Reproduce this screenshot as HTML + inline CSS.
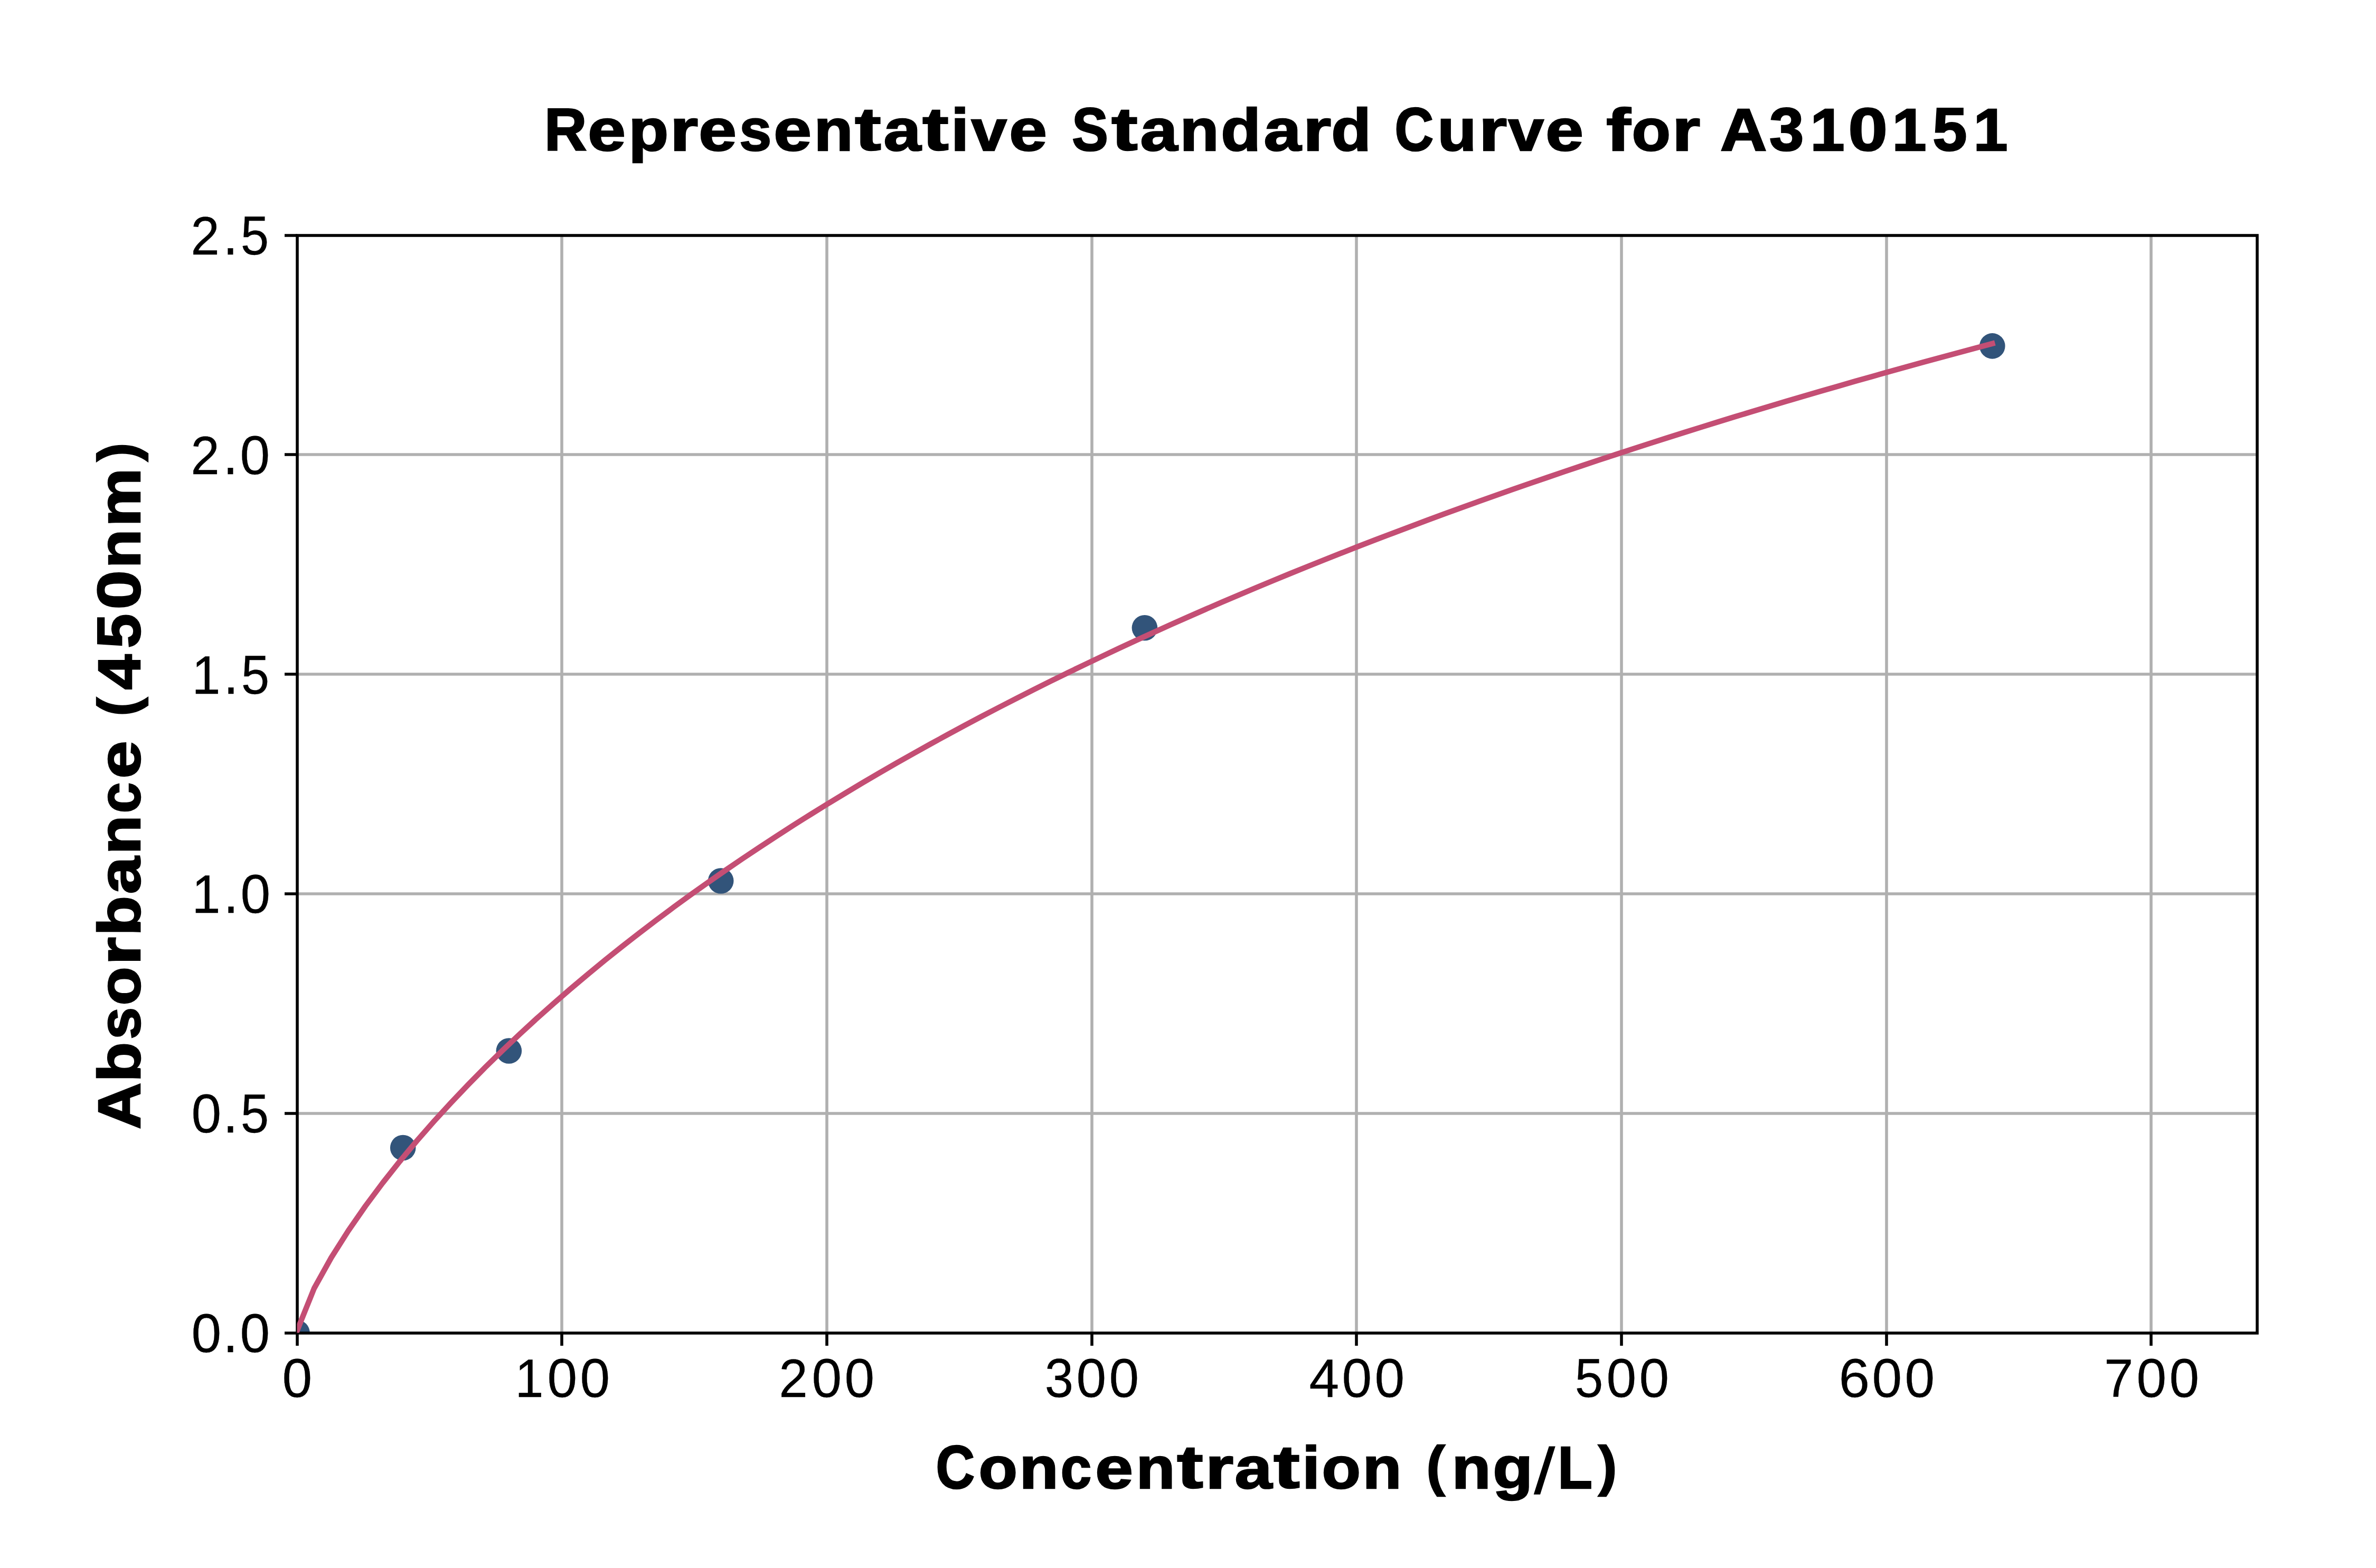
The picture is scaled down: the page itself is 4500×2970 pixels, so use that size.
<!DOCTYPE html>
<html lang="en"><head><meta charset="utf-8"><title>Representative Standard Curve for A310151</title>
<style>html,body{margin:0;padding:0;background:#fff}
#fig{position:relative;width:4500px;height:2970px;background:#fff;overflow:hidden;font-family:"Liberation Sans",sans-serif;color:#000}
.t{position:absolute;white-space:nowrap;font-kerning:none;transform-origin:0 0;font-weight:400;font-size:103px;line-height:115px;-webkit-text-stroke:0.3px #000}
.t .g{display:inline-block;transform-origin:0 93px}
.b{font-weight:700;font-size:114px;line-height:127px;-webkit-text-stroke:2.6px #000}
.b .g{transform-origin:0 103px}</style></head>
<body><div id="fig">
<svg width="4500" height="2970" viewBox="0 0 4500 2970" style="position:absolute;left:0;top:0">
<defs><clipPath id="ax"><rect x="562.5" y="445.5" width="3712.5" height="2079.0"/></clipPath></defs>
<rect width="4500" height="2970" fill="#ffffff"/>
<path d="M1064 445.5V2524.5M1566 445.5V2524.5M2068 445.5V2524.5M2569 445.5V2524.5M3071 445.5V2524.5M3573 445.5V2524.5M4074 445.5V2524.5M562.5 861H4275.0M562.5 1277H4275.0M562.5 1693H4275.0M562.5 2109H4275.0" fill="none" stroke="#b0b0b0" stroke-width="5.556"/>
<g clip-path="url(#ax)">
<circle cx="562.50" cy="2524.50" r="24.306" fill="#32547A"/>
<circle cx="763.18" cy="2173.98" r="24.306" fill="#32547A"/>
<circle cx="963.85" cy="1990.53" r="24.306" fill="#32547A"/>
<circle cx="1365.20" cy="1668.53" r="24.306" fill="#32547A"/>
<circle cx="2167.91" cy="1189.28" r="24.306" fill="#32547A"/>
<circle cx="3773.31" cy="655.40" r="24.306" fill="#32547A"/>
</g>
<path d="M563 2525.0v24M1064 2525.0v24M1566 2525.0v24M2068 2525.0v24M2569 2525.0v24M3071 2525.0v24M3573 2525.0v24M4074 2525.0v24M563.0 446h-24M563.0 861h-24M563.0 1277h-24M563.0 1693h-24M563.0 2109h-24M563.0 2525h-24" fill="none" stroke="#000" stroke-width="5.556"/>
<rect x="563.0" y="446.0" width="3712.0" height="2079.0" fill="none" stroke="#000" stroke-width="5.556" stroke-linejoin="miter"/>
<polyline clip-path="url(#ax)" points="562.50,2520.91 594.93,2440.34 627.36,2382.14 659.80,2330.98 692.23,2284.25 724.66,2240.74 757.09,2199.79 789.53,2160.94 821.96,2123.89 854.39,2088.40 886.82,2054.29 919.26,2021.43 951.69,1989.69 984.12,1958.98 1016.55,1929.21 1048.99,1900.31 1081.42,1872.23 1113.85,1844.91 1146.28,1818.30 1178.72,1792.35 1211.15,1767.05 1243.58,1742.33 1276.01,1718.19 1308.45,1694.58 1340.88,1671.48 1373.31,1648.88 1405.74,1626.74 1438.18,1605.05 1470.61,1583.78 1503.04,1562.93 1535.47,1542.47 1567.91,1522.39 1600.34,1502.68 1632.77,1483.32 1665.20,1464.30 1697.64,1445.61 1730.07,1427.23 1762.50,1409.16 1794.93,1391.38 1827.36,1373.90 1859.80,1356.69 1892.23,1339.75 1924.66,1323.07 1957.09,1306.64 1989.53,1290.46 2021.96,1274.52 2054.39,1258.82 2086.82,1243.34 2119.26,1228.08 2151.69,1213.03 2184.12,1198.20 2216.55,1183.56 2248.99,1169.13 2281.42,1154.89 2313.85,1140.84 2346.28,1126.97 2378.72,1113.28 2411.15,1099.77 2443.58,1086.42 2476.01,1073.25 2508.45,1060.24 2540.88,1047.39 2573.31,1034.69 2605.74,1022.15 2638.18,1009.76 2670.61,997.52 2703.04,985.41 2735.47,973.45 2767.91,961.63 2800.34,949.94 2832.77,938.38 2865.20,926.95 2897.64,915.65 2930.07,904.48 2962.50,893.42 2994.93,882.49 3027.36,871.67 3059.80,860.97 3092.23,850.38 3124.66,839.90 3157.09,829.53 3189.53,819.26 3221.96,809.10 3254.39,799.05 3286.82,789.09 3319.26,779.24 3351.69,769.48 3384.12,759.82 3416.55,750.26 3448.99,740.78 3481.42,731.40 3513.85,722.11 3546.28,712.90 3578.72,703.79 3611.15,694.75 3643.58,685.81 3676.01,676.94 3708.45,668.16 3740.88,659.45 3773.31,650.83" fill="none" stroke="#C44E74" stroke-width="10.417" stroke-linejoin="round" stroke-linecap="square"/>
</svg>
<div class="t b title" style="left:1026.80px;top:183.00px"><span class="g" style="width:85.57px;text-indent:4.13px;transform:translate(0,-1.30px) scale(0.9756,0.9996)">R</span><span class="g" style="width:75.37px;text-indent:1.07px;transform:translate(0,-0.79px) scale(1.1311,0.9807)">e</span><span class="g" style="width:79.55px;text-indent:2.38px;transform:translate(0,-1.16px) scale(1.0861,0.9724)">p</span><span class="g" style="width:54.80px;text-indent:1.58px;transform:translate(0,-1.26px) scale(1.1966,0.9724)">r</span><span class="g" style="width:75.37px;text-indent:1.07px;transform:translate(0,-0.79px) scale(1.1311,0.9807)">e</span><span class="g" style="width:66.14px;text-indent:3.27px;transform:translate(0,-0.79px) scale(0.9617,0.9799)">s</span><span class="g" style="width:75.37px;text-indent:1.07px;transform:translate(0,-0.79px) scale(1.1311,0.9807)">e</span><span class="g" style="width:79.11px;text-indent:2.59px;transform:translate(0,-1.26px) scale(1.0596,0.9724)">n</span><span class="g" style="width:53.12px;text-indent:1.04px;transform:translate(0,-2.30px) scale(1.2996,1.0006)">t</span><span class="g" style="width:74.99px;text-indent:2.23px;transform:translate(0,-0.79px) scale(1.1180,0.9807)">a</span><span class="g" style="width:53.12px;text-indent:1.04px;transform:translate(0,-2.30px) scale(1.2996,1.0006)">t</span><span class="g" style="width:38.09px;text-indent:2.10px;transform:translate(0,-1.29px) scale(1.0647,0.9908)">i</span><span class="g" style="width:72.44px;text-indent:2.44px;transform:translate(0,-1.26px) scale(1.0625,0.9671)">v</span><span class="g" style="width:75.37px;text-indent:1.07px;transform:translate(0,-0.79px) scale(1.1311,0.9807)">e</span><span class="g" style="width:38.69px;white-space:pre"> </span><span class="g" style="width:80.03px;text-indent:6.86px;transform:translate(0,-0.86px) scale(0.9014,1.0087)">S</span><span class="g" style="width:53.12px;text-indent:1.04px;transform:translate(0,-2.30px) scale(1.2996,1.0006)">t</span><span class="g" style="width:74.99px;text-indent:2.23px;transform:translate(0,-0.79px) scale(1.1180,0.9807)">a</span><span class="g" style="width:79.11px;text-indent:2.59px;transform:translate(0,-1.26px) scale(1.0596,0.9724)">n</span><span class="g" style="width:79.55px;text-indent:1.22px;transform:translate(0,-0.83px) scale(1.0861,0.9962)">d</span><span class="g" style="width:74.99px;text-indent:2.23px;transform:translate(0,-0.79px) scale(1.1180,0.9807)">a</span><span class="g" style="width:54.80px;text-indent:1.58px;transform:translate(0,-1.26px) scale(1.1966,0.9724)">r</span><span class="g" style="width:79.55px;text-indent:1.22px;transform:translate(0,-0.83px) scale(1.0861,0.9962)">d</span><span class="g" style="width:38.69px;white-space:pre"> </span><span class="g" style="width:81.55px;text-indent:2.82px;transform:translate(0,-0.86px) scale(0.8933,1.0087)">C</span><span class="g" style="width:79.11px;text-indent:2.42px;transform:translate(0,-0.78px) scale(1.0596,0.9749)">u</span><span class="g" style="width:54.80px;text-indent:1.58px;transform:translate(0,-1.26px) scale(1.1966,0.9724)">r</span><span class="g" style="width:72.44px;text-indent:2.44px;transform:translate(0,-1.26px) scale(1.0625,0.9671)">v</span><span class="g" style="width:75.37px;text-indent:1.07px;transform:translate(0,-0.79px) scale(1.1311,0.9807)">e</span><span class="g" style="width:38.69px;white-space:pre"> </span><span class="g" style="width:48.35px;text-indent:1.09px;transform:translate(0,-1.29px) scale(1.2153,0.9908)">f</span><span class="g" style="width:76.34px;text-indent:1.37px;transform:translate(0,-0.79px) scale(1.0546,0.9807)">o</span><span class="g" style="width:54.80px;text-indent:1.58px;transform:translate(0,-1.26px) scale(1.1966,0.9724)">r</span><span class="g" style="width:38.69px;white-space:pre"> </span><span class="g" style="width:86.00px;text-indent:-1.03px;transform:translate(0,-1.30px) scale(1.0736,0.9996)">A</span><span class="g" style="width:77.32px;text-indent:5.90px;transform:translate(0,-1.02px) scale(1.0299,1.0067)">3</span><span class="g" style="width:77.32px;text-indent:6.33px;transform:translate(0,-1.30px) scale(1.0266,0.9996)">1</span><span class="g" style="width:77.32px;text-indent:1.32px;transform:translate(0,-0.86px) scale(1.1736,1.0087)">0</span><span class="g" style="width:77.32px;text-indent:6.33px;transform:translate(0,-1.30px) scale(1.0266,0.9996)">1</span><span class="g" style="width:77.32px;text-indent:6.13px;transform:translate(0,-0.85px) scale(1.0280,1.0052)">5</span><span class="g" style="width:77.31px;text-indent:6.33px;transform:translate(0,-1.30px) scale(1.0266,0.9996)">1</span></div>
<div class="t b xl" style="left:1770.47px;top:2717.00px"><span class="g" style="width:81.55px;text-indent:2.82px;transform:translate(0,-0.86px) scale(0.8933,1.0087)">C</span><span class="g" style="width:76.34px;text-indent:1.37px;transform:translate(0,-0.79px) scale(1.0546,0.9807)">o</span><span class="g" style="width:79.11px;text-indent:2.59px;transform:translate(0,-1.26px) scale(1.0596,0.9724)">n</span><span class="g" style="width:65.87px;text-indent:2.03px;transform:translate(0,-0.79px) scale(0.9218,0.9807)">c</span><span class="g" style="width:75.37px;text-indent:1.07px;transform:translate(0,-0.79px) scale(1.1311,0.9807)">e</span><span class="g" style="width:79.11px;text-indent:2.59px;transform:translate(0,-1.26px) scale(1.0596,0.9724)">n</span><span class="g" style="width:53.12px;text-indent:1.04px;transform:translate(0,-2.30px) scale(1.2996,1.0006)">t</span><span class="g" style="width:54.80px;text-indent:1.58px;transform:translate(0,-1.26px) scale(1.1966,0.9724)">r</span><span class="g" style="width:74.99px;text-indent:2.23px;transform:translate(0,-0.79px) scale(1.1180,0.9807)">a</span><span class="g" style="width:53.12px;text-indent:1.04px;transform:translate(0,-2.30px) scale(1.2996,1.0006)">t</span><span class="g" style="width:38.09px;text-indent:2.10px;transform:translate(0,-1.29px) scale(1.0647,0.9908)">i</span><span class="g" style="width:76.34px;text-indent:1.37px;transform:translate(0,-0.79px) scale(1.0546,0.9807)">o</span><span class="g" style="width:79.11px;text-indent:2.59px;transform:translate(0,-1.26px) scale(1.0596,0.9724)">n</span><span class="g" style="width:38.69px;white-space:pre"> </span><span class="g" style="width:50.79px;text-indent:5.89px;transform:translate(0,-8.04px) scale(0.9299,0.9090)">(</span><span class="g" style="width:79.11px;text-indent:2.59px;transform:translate(0,-1.26px) scale(1.0596,0.9724)">n</span><span class="g" style="width:79.55px;text-indent:1.21px;transform:translate(0,-0.88px) scale(1.0881,0.9767)">g</span><span class="g" style="width:40.59px;text-indent:1.06px;transform:translate(0,6.57px) skewX(-10.076deg) scale(0.7601,1.0437)">/</span><span class="g" style="width:70.81px;text-indent:4.50px;transform:translate(0,-1.30px) scale(0.9421,0.9996)">L</span><span class="g" style="width:50.78px;text-indent:10.76px;transform:translate(0,-8.04px) scale(0.9299,0.9090)">)</span></div>
<div class="t b yl" style="left:163.00px;top:2137.54px;transform:rotate(-90deg)"><span class="g" style="width:86.00px;text-indent:-1.03px;transform:translate(0,-1.30px) scale(1.0736,0.9996)">A</span><span class="g" style="width:79.55px;text-indent:2.38px;transform:translate(0,-0.83px) scale(1.0861,0.9962)">b</span><span class="g" style="width:66.14px;text-indent:3.27px;transform:translate(0,-0.79px) scale(0.9617,0.9799)">s</span><span class="g" style="width:76.34px;text-indent:1.37px;transform:translate(0,-0.79px) scale(1.0546,0.9807)">o</span><span class="g" style="width:54.80px;text-indent:1.58px;transform:translate(0,-1.26px) scale(1.1966,0.9724)">r</span><span class="g" style="width:79.55px;text-indent:2.38px;transform:translate(0,-0.83px) scale(1.0861,0.9962)">b</span><span class="g" style="width:74.99px;text-indent:2.23px;transform:translate(0,-0.79px) scale(1.1180,0.9807)">a</span><span class="g" style="width:79.11px;text-indent:2.59px;transform:translate(0,-1.26px) scale(1.0596,0.9724)">n</span><span class="g" style="width:65.87px;text-indent:2.03px;transform:translate(0,-0.79px) scale(0.9218,0.9807)">c</span><span class="g" style="width:75.37px;text-indent:1.07px;transform:translate(0,-0.79px) scale(1.1311,0.9807)">e</span><span class="g" style="width:38.69px;white-space:pre"> </span><span class="g" style="width:50.79px;text-indent:5.89px;transform:translate(0,-8.04px) scale(0.9299,0.9090)">(</span><span class="g" style="width:77.32px;text-indent:4.30px;transform:translate(0,-1.30px) scale(1.0559,0.9996)">4</span><span class="g" style="width:77.32px;text-indent:6.13px;transform:translate(0,-0.85px) scale(1.0280,1.0052)">5</span><span class="g" style="width:77.32px;text-indent:1.32px;transform:translate(0,-0.86px) scale(1.1736,1.0087)">0</span><span class="g" style="width:79.11px;text-indent:2.59px;transform:translate(0,-1.26px) scale(1.0596,0.9724)">n</span><span class="g" style="width:115.79px;text-indent:2.22px;transform:translate(0,-1.26px) scale(1.0938,0.9724)">m</span><span class="g" style="width:50.78px;text-indent:10.76px;transform:translate(0,-8.04px) scale(0.9299,0.9090)">)</span></div>
<div class="t xt" style="left:531.59px;top:2553.00px"><span class="g" style="width:61.86px;text-indent:2.61px;transform:translate(0,0.22px) scale(0.9890,1.0042)">0</span></div>
<div class="t xt" style="left:972.32px;top:2553.00px"><span class="g" style="width:61.87px;text-indent:3.62px;transform:translate(0,-0.15px) scale(0.9439,0.9960)">1</span><span class="g" style="width:61.87px;text-indent:2.61px;transform:translate(0,0.22px) scale(0.9890,1.0042)">0</span><span class="g" style="width:61.86px;text-indent:2.61px;transform:translate(0,0.22px) scale(0.9890,1.0042)">0</span></div>
<div class="t xt" style="left:1472.88px;top:2553.00px"><span class="g" style="width:61.87px;text-indent:2.44px;transform:translate(0,-0.15px) scale(0.9530,0.9991)">2</span><span class="g" style="width:61.87px;text-indent:2.61px;transform:translate(0,0.22px) scale(0.9890,1.0042)">0</span><span class="g" style="width:61.86px;text-indent:2.61px;transform:translate(0,0.22px) scale(0.9890,1.0042)">0</span></div>
<div class="t xt" style="left:1974.59px;top:2553.00px"><span class="g" style="width:61.87px;text-indent:4.02px;transform:translate(0,0.22px) scale(0.9497,1.0042)">3</span><span class="g" style="width:61.87px;text-indent:2.61px;transform:translate(0,0.22px) scale(0.9890,1.0042)">0</span><span class="g" style="width:61.86px;text-indent:2.61px;transform:translate(0,0.22px) scale(0.9890,1.0042)">0</span></div>
<div class="t xt" style="left:2477.25px;top:2553.00px"><span class="g" style="width:61.87px;text-indent:2.58px;transform:translate(0,-0.15px) scale(0.9894,0.9960)">4</span><span class="g" style="width:61.87px;text-indent:2.61px;transform:translate(0,0.22px) scale(0.9890,1.0042)">0</span><span class="g" style="width:61.86px;text-indent:2.61px;transform:translate(0,0.22px) scale(0.9890,1.0042)">0</span></div>
<div class="t xt" style="left:2978.50px;top:2553.00px"><span class="g" style="width:61.87px;text-indent:4.06px;transform:translate(0,0.22px) scale(0.9333,1.0012)">5</span><span class="g" style="width:61.87px;text-indent:2.61px;transform:translate(0,0.22px) scale(0.9890,1.0042)">0</span><span class="g" style="width:61.86px;text-indent:2.61px;transform:translate(0,0.22px) scale(0.9890,1.0042)">0</span></div>
<div class="t xt" style="left:3481.21px;top:2553.00px"><span class="g" style="width:61.87px;text-indent:1.55px;transform:translate(0,0.22px) scale(1.0233,1.0042)">6</span><span class="g" style="width:61.87px;text-indent:2.61px;transform:translate(0,0.22px) scale(0.9890,1.0042)">0</span><span class="g" style="width:61.86px;text-indent:2.61px;transform:translate(0,0.22px) scale(0.9890,1.0042)">0</span></div>
<div class="t xt" style="left:3982.02px;top:2553.00px"><span class="g" style="width:61.87px;text-indent:3.12px;transform:translate(0,-0.15px) scale(0.9671,0.9960)">7</span><span class="g" style="width:61.87px;text-indent:2.61px;transform:translate(0,0.22px) scale(0.9890,1.0042)">0</span><span class="g" style="width:61.86px;text-indent:2.61px;transform:translate(0,0.22px) scale(0.9890,1.0042)">0</span></div>
<div class="t yt" style="left:358.88px;top:389.00px"><span class="g" style="width:61.87px;text-indent:2.44px;transform:translate(0,-0.15px) scale(0.9530,0.9991)">2</span><span class="g" style="width:30.91px;text-indent:1.24px;transform:translate(0,-0.16px) scale(0.9910,1.0657)">.</span><span class="g" style="width:61.86px;text-indent:4.06px;transform:translate(0,0.22px) scale(0.9333,1.0012)">5</span></div>
<div class="t yt" style="left:358.88px;top:805.00px"><span class="g" style="width:61.87px;text-indent:2.44px;transform:translate(0,-0.15px) scale(0.9530,0.9991)">2</span><span class="g" style="width:30.91px;text-indent:1.24px;transform:translate(0,-0.16px) scale(0.9910,1.0657)">.</span><span class="g" style="width:61.86px;text-indent:2.61px;transform:translate(0,0.22px) scale(0.9890,1.0042)">0</span></div>
<div class="t yt" style="left:360.32px;top:1221.00px"><span class="g" style="width:61.87px;text-indent:3.62px;transform:translate(0,-0.15px) scale(0.9439,0.9960)">1</span><span class="g" style="width:30.91px;text-indent:1.24px;transform:translate(0,-0.16px) scale(0.9910,1.0657)">.</span><span class="g" style="width:61.86px;text-indent:4.06px;transform:translate(0,0.22px) scale(0.9333,1.0012)">5</span></div>
<div class="t yt" style="left:360.32px;top:1636.00px"><span class="g" style="width:61.87px;text-indent:3.62px;transform:translate(0,-0.15px) scale(0.9439,0.9960)">1</span><span class="g" style="width:30.91px;text-indent:1.24px;transform:translate(0,-0.16px) scale(0.9910,1.0657)">.</span><span class="g" style="width:61.86px;text-indent:2.61px;transform:translate(0,0.22px) scale(0.9890,1.0042)">0</span></div>
<div class="t yt" style="left:359.59px;top:2052.00px"><span class="g" style="width:61.87px;text-indent:2.61px;transform:translate(0,0.22px) scale(0.9890,1.0042)">0</span><span class="g" style="width:30.91px;text-indent:1.24px;transform:translate(0,-0.16px) scale(0.9910,1.0657)">.</span><span class="g" style="width:61.86px;text-indent:4.06px;transform:translate(0,0.22px) scale(0.9333,1.0012)">5</span></div>
<div class="t yt" style="left:359.59px;top:2468.00px"><span class="g" style="width:61.87px;text-indent:2.61px;transform:translate(0,0.22px) scale(0.9890,1.0042)">0</span><span class="g" style="width:30.91px;text-indent:1.24px;transform:translate(0,-0.16px) scale(0.9910,1.0657)">.</span><span class="g" style="width:61.86px;text-indent:2.61px;transform:translate(0,0.22px) scale(0.9890,1.0042)">0</span></div>
</div></body></html>
